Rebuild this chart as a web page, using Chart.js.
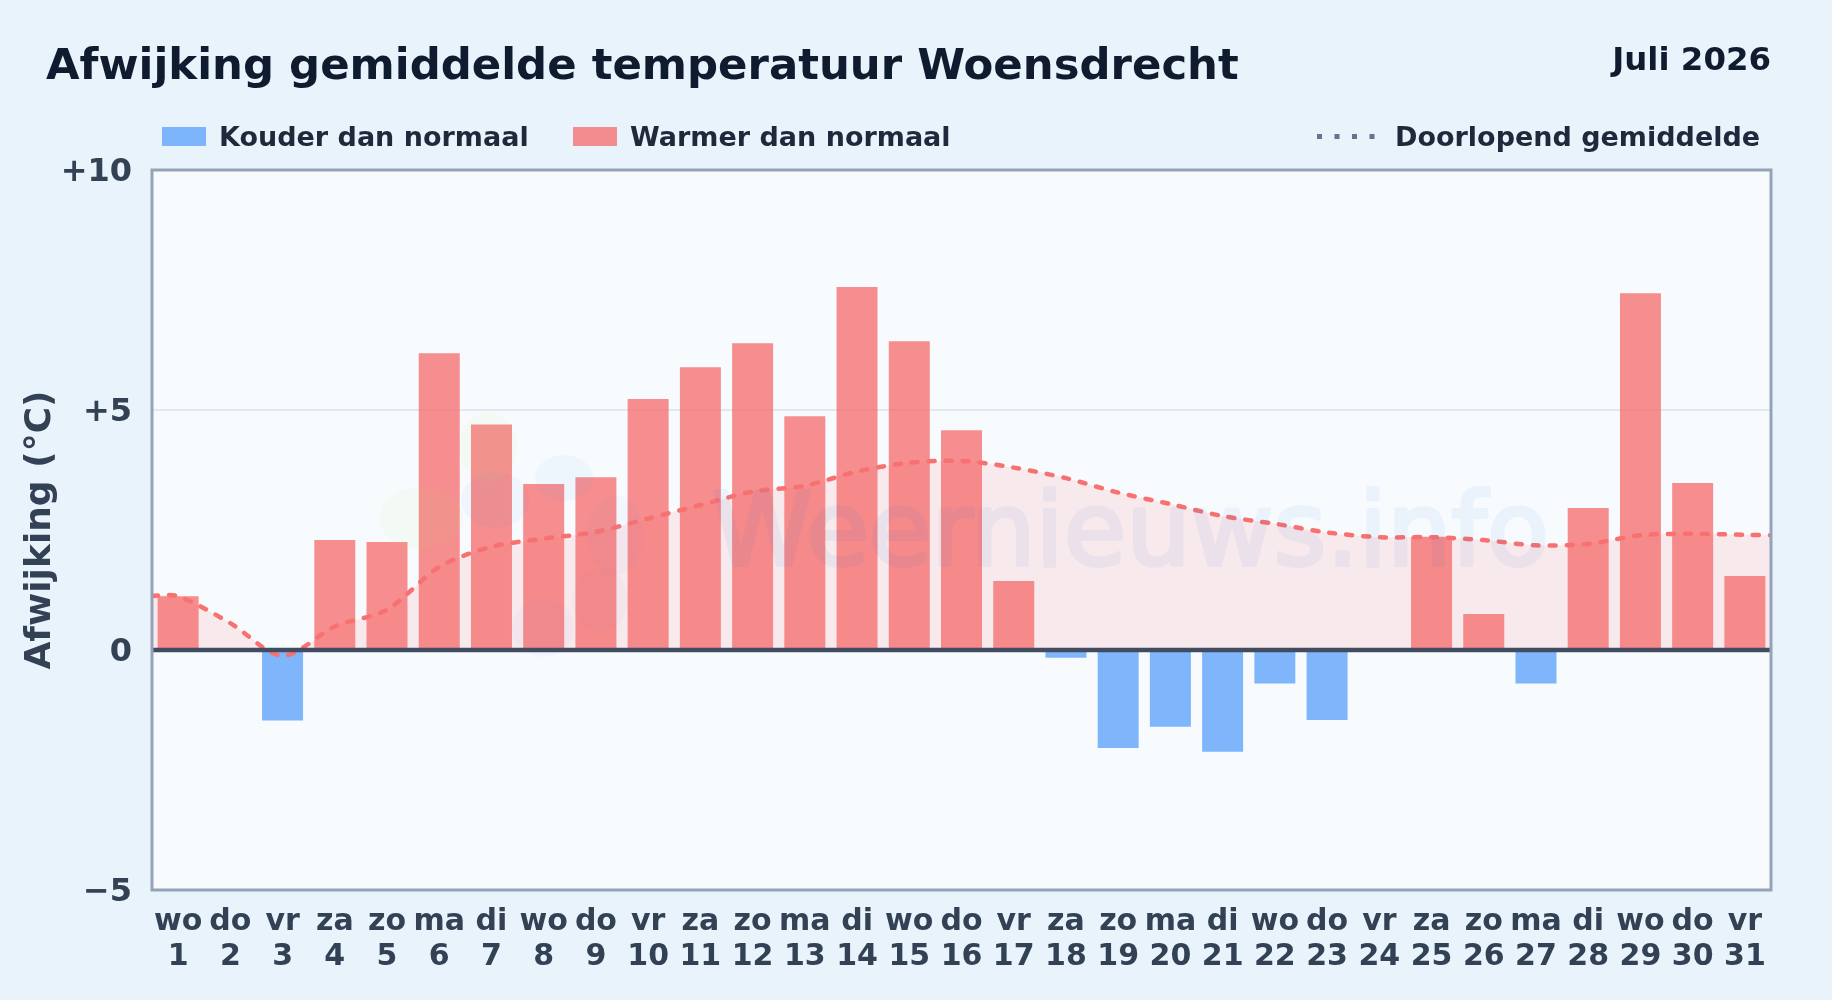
<!DOCTYPE html>
<html lang="nl">
<head>
    <meta charset="UTF-8">
    <title>Afwijking gemiddelde temperatuur Woensdrecht</title>
    <script src="https://cdn.jsdelivr.net/npm/chart.js"></script>
    <style>
        html, body { margin: 0; padding: 0; }
        body {
            position: relative;
            width: 1832px;
            height: 1000px;
            overflow: hidden;
            background: #e9f3fc;
            font-family: "DejaVu Sans", sans-serif;
            font-weight: bold;
        }
        canvas { position: absolute; left: 0; top: 0; }
        .txt { position: absolute; white-space: nowrap; line-height: 1; }
        #title { left: 46px; top: 43px; font-size: 43.4px; color: #0f1b2e; }
        #month { right: 61px; top: 43px; font-size: 32.4px; color: #0f1b2e; }
        .leg { top: 123px; font-size: 27px; color: #1e293b; }
        .swatch { position: absolute; top: 127px; width: 44px; height: 19px; }
        #dots { position: absolute; left: 1317px; top: 134px; }
    </style>
</head>
<body>
    <canvas id="graph" width="1832" height="1000"></canvas>
    <div class="txt" id="title">Afwijking gemiddelde temperatuur Woensdrecht</div>
    <div class="txt" id="month">Juli 2026</div>
    <div class="swatch" style="left:162px;background:rgba(96,165,250,.8)"></div>
    <div class="txt leg" style="left:219px">Kouder dan normaal</div>
    <div class="swatch" style="left:573px;background:rgba(245,110,110,.78)"></div>
    <div class="txt leg" style="left:630px">Warmer dan normaal</div>
    <svg id="dots" width="58" height="5"><line x1="0" y1="2.5" x2="58" y2="2.5" stroke="#64748b" stroke-width="5" stroke-dasharray="5 12.5"></line></svg>
    <div class="txt leg" style="left:1395px">Doorlopend gemiddelde</div>

<script>
    const weekdays = ['wo','do','vr','za','zo','ma','di','wo','do','vr','za','zo','ma','di','wo','do','vr','za','zo','ma','di','wo','do','vr','za','zo','ma','di','wo','do','vr'];
    const days = [1,2,3,4,5,6,7,8,9,10,11,12,13,14,15,16,17,18,19,20,21,22,23,24,25,26,27,28,29,30,31];

    const warmer = [1.12,null,null,2.29,2.25,6.18,4.70,3.46,3.60,5.23,5.89,6.39,4.87,7.56,6.43,4.58,1.44,null,null,null,null,null,null,null,2.36,0.75,null,2.96,7.43,3.48,1.54];
    const kouder = [null,null,-1.47,null,null,null,null,null,null,null,null,null,null,null,null,null,null,-0.16,-2.04,-1.60,-2.12,-0.70,-1.46,null,null,null,-0.70,null,null,null,null];

    // line runs from edge to edge of the plot, so half a day extra on both ends
    const meanDays = [0.5,1,2,3,4,5,6,7,8,9,10,11,12,13,14,15,16,17,18,19,20,21,22,23,24,25,26,27,28,29,30,31,31.5];
    const meanValues = [1.13,1.12,0.56,-0.12,0.49,0.84,1.73,2.15,2.32,2.46,2.74,3.02,3.30,3.42,3.72,3.90,3.94,3.80,3.58,3.28,3.04,2.79,2.63,2.45,2.35,2.35,2.29,2.18,2.21,2.39,2.42,2.40,2.39];

    const yTicks = [-5, 0, 5, 10];
    const yLabels = {'-5': '\u22125', '0': '0', '5': '+5', '10': '+10'};

    const tickColor = '#334155';

    // faint logo + site name, lies over the bars in the original
    const watermark = {
        id: 'watermark',
        afterDatasetsDraw(chart) {
            const c = chart.ctx;
            const blob = (x, y, rx, ry, col) => {
                c.fillStyle = col;
                c.beginPath();
                c.ellipse(x, y, rx, ry, 0, 0, Math.PI * 2);
                c.fill();
            };
            c.save();
            blob(421, 518, 42, 31, 'rgba(190,225,120,.07)');
            blob(488, 447, 29, 35, 'rgba(190,225,120,.07)');
            blob(495, 500, 34, 28, 'rgba(80,150,220,.06)');
            blob(564, 478, 29, 23, 'rgba(80,170,240,.06)');
            blob(615, 535, 28, 40, 'rgba(80,150,220,.035)');
            blob(543, 628, 31, 29, 'rgba(80,150,220,.035)');
            blob(600, 600, 28, 32, 'rgba(80,150,220,.03)');

            // text on its own canvas, otherwise fill and stroke overlap in the alpha
            const t = document.createElement('canvas');
            t.width = 900;
            t.height = 140;
            const tc = t.getContext('2d');
            tc.font = '101.5px "DejaVu Sans"';
            tc.fillStyle = tc.strokeStyle = '#146ed8';
            tc.lineWidth = 4;
            tc.lineJoin = 'round';
            tc.fillText('Weernieuws.info', 10, 110);
            tc.strokeText('Weernieuws.info', 10, 110);
            c.globalAlpha = 0.055;
            c.drawImage(t, 702, 455);
            c.restore();
        }
    };

    const frame = {
        id: 'frame',
        beforeDraw(chart) {
            const a = chart.chartArea;
            chart.ctx.fillStyle = '#f8fbfe';
            chart.ctx.fillRect(a.left, a.top, a.width, a.height);
        },
        afterDatasetsDraw(chart) {
            const c = chart.ctx, a = chart.chartArea;
            const y0 = chart.scales.y.getPixelForValue(0);
            c.save();
            c.strokeStyle = '#414c61';
            c.lineWidth = 4.5;
            c.beginPath();
            c.moveTo(a.left, y0);
            c.lineTo(a.right, y0);
            c.stroke();
            c.strokeStyle = '#94a3b8';
            c.lineWidth = 3;
            c.strokeRect(a.left, a.top, a.width, a.height);
            c.restore();
        }
    };

    new Chart(document.getElementById('graph'), {
        type: 'bar',
        data: {
            labels: days.map((d, i) => [weekdays[i], String(d)]),
            datasets: [
                {
                    label: 'Kouder dan normaal',
                    data: kouder,
                    backgroundColor: 'rgba(96,165,250,.8)',
                    grouped: false,
                    barPercentage: 0.785,
                    categoryPercentage: 1,
                    order: 1
                },
                {
                    label: 'Warmer dan normaal',
                    data: warmer,
                    backgroundColor: 'rgba(245,110,110,.78)',
                    grouped: false,
                    barPercentage: 0.785,
                    categoryPercentage: 1,
                    order: 1
                },
                {
                    type: 'line',
                    label: 'Doorlopend gemiddelde',
                    data: meanDays.map((d, i) => ({x: d, y: meanValues[i]})),
                    xAxisID: 'xLine',
                    borderColor: '#f87171',
                    borderWidth: 4.5,
                    borderDash: [6, 11],
                    borderCapStyle: 'round',
                    backgroundColor: 'rgba(248,113,113,.13)',
                    fill: {target: 'origin'},
                    pointRadius: 0,
                    tension: 0.3,
                    order: 0
                }
            ]
        },
        options: {
            responsive: false,
            animation: false,
            devicePixelRatio: 1,
            layout: {padding: {top: 170, right: 61, left: 0, bottom: 0}},
            plugins: {
                legend: {display: false},
                tooltip: {enabled: false},
                filler: {drawTime: 'beforeDatasetsDraw'}
            },
            scales: {
                x: {
                    afterFit: s => { s.height = 110; },
                    grid: {display: false, drawTicks: false},
                    border: {display: false},
                    ticks: {
                        autoSkip: false,
                        maxRotation: 0,
                        padding: 15,
                        color: tickColor,
                        font: {family: 'DejaVu Sans', weight: 'bold', size: 30, lineHeight: 1.16}
                    }
                },
                xLine: {
                    type: 'linear',
                    display: false,
                    offset: false,
                    min: 0.5,
                    max: 31.5
                },
                y: {
                    min: -5,
                    max: 10,
                    afterFit: s => { s.width = 152; },
                    afterBuildTicks: s => { s.ticks = yTicks.map(v => ({value: v})); },
                    grid: {color: '#e2e8f0', lineWidth: 2, drawTicks: false},
                    border: {display: false},
                    title: {
                        display: true,
                        text: 'Afwijking (°C)',
                        color: tickColor,
                        padding: {top: 19, bottom: 0},
                        font: {family: 'DejaVu Sans', weight: 'bold', size: 36}
                    },
                    ticks: {
                        padding: 20,
                        labelOffset: 3,
                        color: tickColor,
                        callback: v => yLabels[v],
                        font: {family: 'DejaVu Sans', weight: 'bold', size: 32}
                    }
                }
            }
        },
        plugins: [watermark, frame]
    });
</script>
</body>
</html>
